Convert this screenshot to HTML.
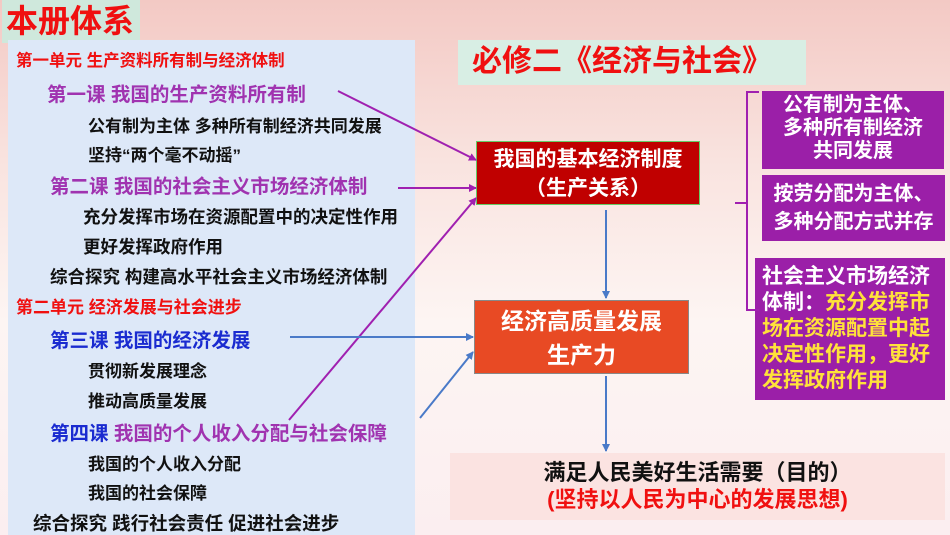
<!DOCTYPE html>
<html><head><meta charset="utf-8"><style>
body{margin:0;width:950px;height:535px;overflow:hidden;position:relative;font-family:"Liberation Sans","Noto Sans CJK SC",sans-serif;font-weight:bold;background:linear-gradient(180deg,#f3c9c4 0%,#f9e3df 30%,#fdf5f3 60%,#fbeef0 100%);}
.a{position:absolute;white-space:nowrap}
.t{position:absolute;white-space:nowrap;line-height:1}
</style></head><body>
<div class="a" style="left:2px;top:0;width:138px;height:43px;background:#cfe8dc"></div>
<div class="t" style="left:6px;top:5px;font-size:32px;color:#f01010">本册体系</div>
<div class="a" style="left:8px;top:40px;width:407px;height:495px;background:#dde8f8"></div>
<div class="t" style="left:16px;top:53px;font-size:16.5px;color:#f01010">第一单元 生产资料所有制与经济体制</div>
<div class="t" style="left:47px;top:86px;font-size:19.5px;color:#a033b0">第一课 我国的生产资料所有制</div>
<div class="t" style="left:88px;top:118px;font-size:17px;color:#111">公有制为主体 多种所有制经济共同发展</div>
<div class="t" style="left:88px;top:147px;font-size:17px;color:#111">坚持“两个毫不动摇”</div>
<div class="t" style="left:50px;top:178px;font-size:19.5px;color:#a033b0">第二课 我国的社会主义市场经济体制</div>
<div class="t" style="left:83px;top:209px;font-size:17.5px;color:#111">充分发挥市场在资源配置中的决定性作用</div>
<div class="t" style="left:83px;top:239px;font-size:17.5px;color:#111">更好发挥政府作用</div>
<div class="t" style="left:50px;top:269px;font-size:17.5px;color:#111">综合探究 构建高水平社会主义市场经济体制</div>
<div class="t" style="left:16px;top:299px;font-size:17px;color:#f01010">第二单元 经济发展与社会进步</div>
<div class="t" style="left:50px;top:332px;font-size:19.5px;color:#1a2bd0">第三课 我国的经济发展</div>
<div class="t" style="left:88px;top:363px;font-size:17px;color:#111">贯彻新发展理念</div>
<div class="t" style="left:88px;top:393px;font-size:17px;color:#111">推动高质量发展</div>
<div class="t" style="left:50px;top:425px;font-size:19.5px;color:#a033b0"><span style="color:#1a2bd0">第四课</span> 我国的个人收入分配与社会保障</div>
<div class="t" style="left:88px;top:456px;font-size:17px;color:#111">我国的个人收入分配</div>
<div class="t" style="left:88px;top:485px;font-size:17px;color:#111">我国的社会保障</div>
<div class="t" style="left:33px;top:515px;font-size:18.5px;color:#111">综合探究 践行社会责任 促进社会进步</div>

<div class="a" style="left:458px;top:40px;width:348px;height:45px;background:#d8eee4"></div>
<div class="t" style="left:472px;top:47px;font-size:30px;color:#f01010">必修二《经济与社会》</div>

<div class="a" style="left:476px;top:141px;width:224px;height:64px;background:#c00000;border:1px solid #6c6;color:#fff;font-size:21px;text-align:center;line-height:29px;padding-top:3px;box-sizing:border-box">我国的基本经济制度<br>（生产关系）</div>
<div class="a" style="left:474px;top:300px;width:215px;height:74px;background:#e84a24;border:1px solid #888;color:#fff;font-size:23px;text-align:center;line-height:34px;padding-top:3px;box-sizing:border-box">经济高质量发展<br>生产力</div>
<div class="a" style="left:450px;top:453px;width:495px;height:67px;background:#fbe3e1;font-size:22px;text-align:center;line-height:27px;padding-top:6px;box-sizing:border-box;color:#111">满足人民美好生活需要（目的）<br><span style="color:#f01010">(坚持以人民为中心的发展思想)</span></div>

<div class="a" style="left:762px;top:91px;width:182px;height:78px;background:#9b1fa8;color:#fff;font-size:20px;text-align:center;line-height:23px;padding-top:3px;box-sizing:border-box">公有制为主体、<br>多种所有制经济<br>共同发展</div>
<div class="a" style="left:762px;top:175px;width:183px;height:66px;background:#9b1fa8;color:#fff;font-size:20px;text-align:center;line-height:28px;padding-top:5px;box-sizing:border-box">按劳分配为主体、<br>多种分配方式并存</div>
<div class="a" style="left:755px;top:258px;width:190px;height:142px;background:#9b1fa8;color:#fff;font-size:21px;line-height:26px;padding:6px 0 0 7px;box-sizing:border-box;white-space:normal">社会主义市场经济<br>体制：<span style="color:#ffe23a">充分发挥市<br>场在资源配置中起<br>决定性作用，更好<br>发挥政府作用</span></div>

<svg class="a" style="left:0;top:0" width="950" height="535">
<defs>
<marker id="p" markerWidth="8" markerHeight="8" refX="7" refY="4" orient="auto" markerUnits="userSpaceOnUse"><path d="M0,0 L8,4 L0,8 z" fill="#a020b0"/></marker>
<marker id="b" markerWidth="8" markerHeight="8" refX="7" refY="4" orient="auto" markerUnits="userSpaceOnUse"><path d="M0,0 L8,4 L0,8 z" fill="#4a7ac8"/></marker>
</defs>
<g stroke="#a020b0" stroke-width="2" fill="none" marker-end="url(#p)">
<line x1="338" y1="91" x2="476" y2="160"/>
<line x1="398" y1="188" x2="476" y2="188"/>
<line x1="289" y1="420" x2="476" y2="198"/>
</g>
<g stroke="#4a7ac8" stroke-width="2" fill="none" marker-end="url(#b)">
<line x1="290" y1="337" x2="473" y2="337"/>
<line x1="420" y1="418" x2="473" y2="352"/>
<line x1="606" y1="210" x2="606" y2="298"/>
<line x1="606" y1="376" x2="606" y2="451"/>
</g>
<path d="M759,92 L747,92 L747,310 L759,310 M747,203 L735,203" stroke="#a020b0" stroke-width="2" fill="none"/>
</svg>
</body></html>
